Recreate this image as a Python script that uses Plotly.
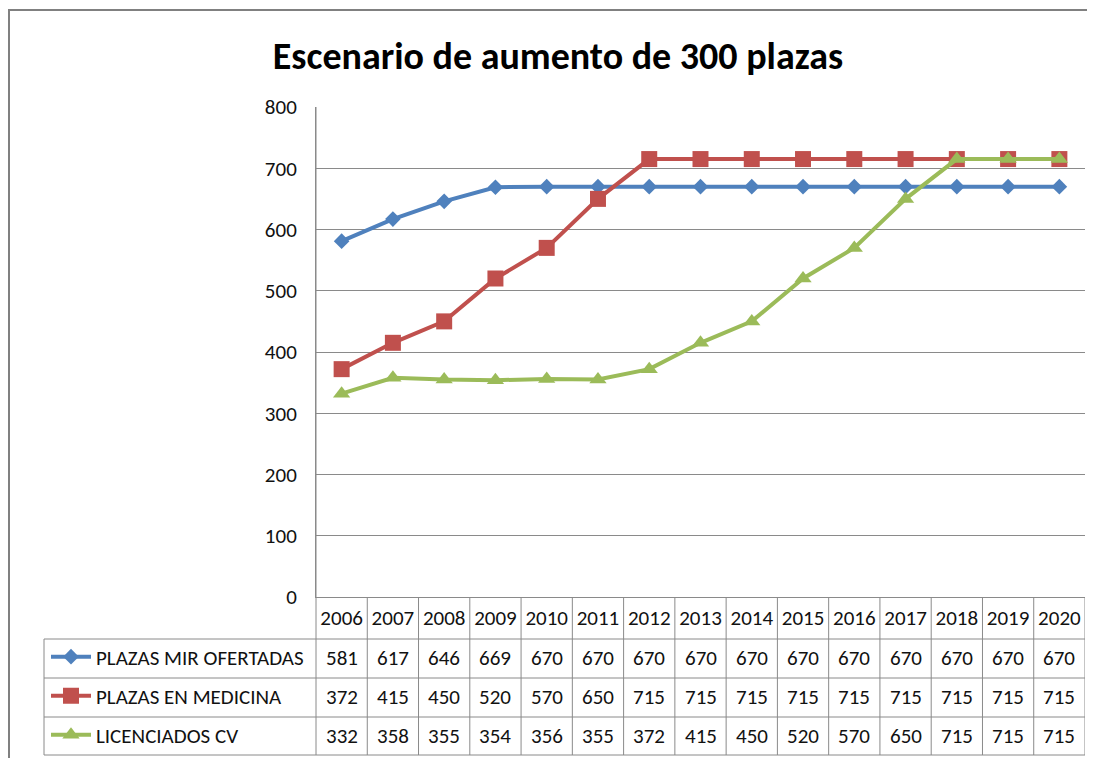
import plotly.graph_objects as go

years = ["2006", "2007", "2008", "2009", "2010", "2011", "2012", "2013",
         "2014", "2015", "2016", "2017", "2018", "2019", "2020"]
plazas_mir = [581, 617, 646, 669, 670, 670, 670, 670, 670, 670, 670, 670, 670, 670, 670]
plazas_medicina = [372, 415, 450, 520, 570, 650, 715, 715, 715, 715, 715, 715, 715, 715, 715]
licenciados_cv = [332, 358, 355, 354, 356, 355, 372, 415, 450, 520, 570, 650, 715, 715, 715]
series_names = ["PLAZAS MIR OFERTADAS", "PLAZAS EN MEDICINA", "LICENCIADOS CV"]
title_text = "Escenario de aumento de 300 plazas"

OFF = 8            # default page body margin
SY = 766 / 758     # compensate vertical rescale of the capture
W, H = 1095 - OFF, 758
PL, PR = 316 - OFF, 1085 - OFF
PT, PB = 106 * SY - OFF, 596 * SY - OFF
FONT = "Carlito, Calibri, Lato, sans-serif"
GRID = "#8a8a8a"


def px(p):
    return (p - OFF - PL) / (PR - PL)


def py(p):
    return (PB - (p * SY - OFF)) / (PB - PT)


colors = ["#4F81BD", "#C0504D", "#9BBB59"]
symbols = ["diamond", "square", "triangle-up"]
msizes = [12, 16, 15]
values = [plazas_mir, plazas_medicina, licenciados_cv]
row_centers = [657, 696, 735]
legend_centers = [656, 695, 734]
legends = ["legend", "legend2", "legend3"]

fig = go.Figure()
for i in range(3):
    fig.add_trace(go.Scatter(
        x=years, y=values[i], name=series_names[i], mode="lines+markers",
        line=dict(color=colors[i], width=4),
        marker=dict(symbol=symbols[i], size=msizes[i], color=colors[i]),
        legend=legends[i], showlegend=True,
    ))

shapes = []
# outer chart border
shapes.append(dict(type="rect", xref="paper", yref="paper",
                   x0=px(9), x1=px(1120), y0=py(9), y1=py(790),
                   line=dict(color="#808080", width=2)))
# table horizontal lines
for yy in [638, 677, 716, 754]:
    shapes.append(dict(type="line", xref="paper", yref="paper",
                       x0=px(44), x1=1, y0=py(yy), y1=py(yy),
                       line=dict(color=GRID, width=1)))
# left column borders
shapes.append(dict(type="line", xref="paper", yref="paper",
                   x0=px(44), x1=px(44), y0=py(638), y1=py(754),
                   line=dict(color=GRID, width=1)))
shapes.append(dict(type="line", xref="paper", yref="paper",
                   x0=0, x1=0, y0=1, y1=py(754),
                   line=dict(color=GRID, width=1)))
# category column boundaries
for j in range(1, len(years) + 1):
    shapes.append(dict(type="line", xref="x", yref="paper",
                       x0=j - 0.5, x1=j - 0.5, y0=0, y1=py(754),
                       line=dict(color=GRID, width=1)))

annotations = []
for i in range(3):
    for j, v in enumerate(values[i]):
        annotations.append(dict(x=j, xref="x", y=py(row_centers[i]), yref="paper",
                                text=str(v), showarrow=False,
                                xanchor="center", yanchor="middle",
                                font=dict(family=FONT, size=21, color="#111")))

layout_legends = {}
for i in range(3):
    layout_legends[legends[i]] = dict(
        x=px(46), xanchor="left", y=py(legend_centers[i]), yanchor="middle",
        bgcolor="rgba(0,0,0,0)", borderwidth=0,
        font=dict(family=FONT, size=21, color="#111"),
        itemwidth=40,
    )

fig.update_layout(
    width=W, height=H,
    margin=dict(l=PL, r=W - PR, t=PT, b=H - PB, pad=0),
    paper_bgcolor="white", plot_bgcolor="white",
    title=dict(text="<b>" + title_text + "</b>", x=(558 - OFF) / W, xanchor="center",
               y=1 - (55 * SY - OFF) / H, yanchor="middle",
               font=dict(family=FONT, size=38, color="#000")),
    xaxis=dict(type="category", range=[-0.5, len(years) - 0.5],
               showgrid=False, showline=True, linecolor=GRID, linewidth=1,
               ticks="", tickfont=dict(family=FONT, size=21, color="#111"),
               ticklabelstandoff=2, zeroline=False, fixedrange=True),
    yaxis=dict(range=[0, 800], dtick=100, showgrid=True, gridcolor=GRID, gridwidth=1,
               showline=True, linecolor=GRID, linewidth=1, zeroline=False,
               ticks="", tickfont=dict(family=FONT, size=21, color="#111"),
               ticklabelstandoff=14, fixedrange=True),
    shapes=shapes, annotations=annotations,
    **layout_legends,
)

fig.write_html("out.html", config={"displayModeBar": False})
